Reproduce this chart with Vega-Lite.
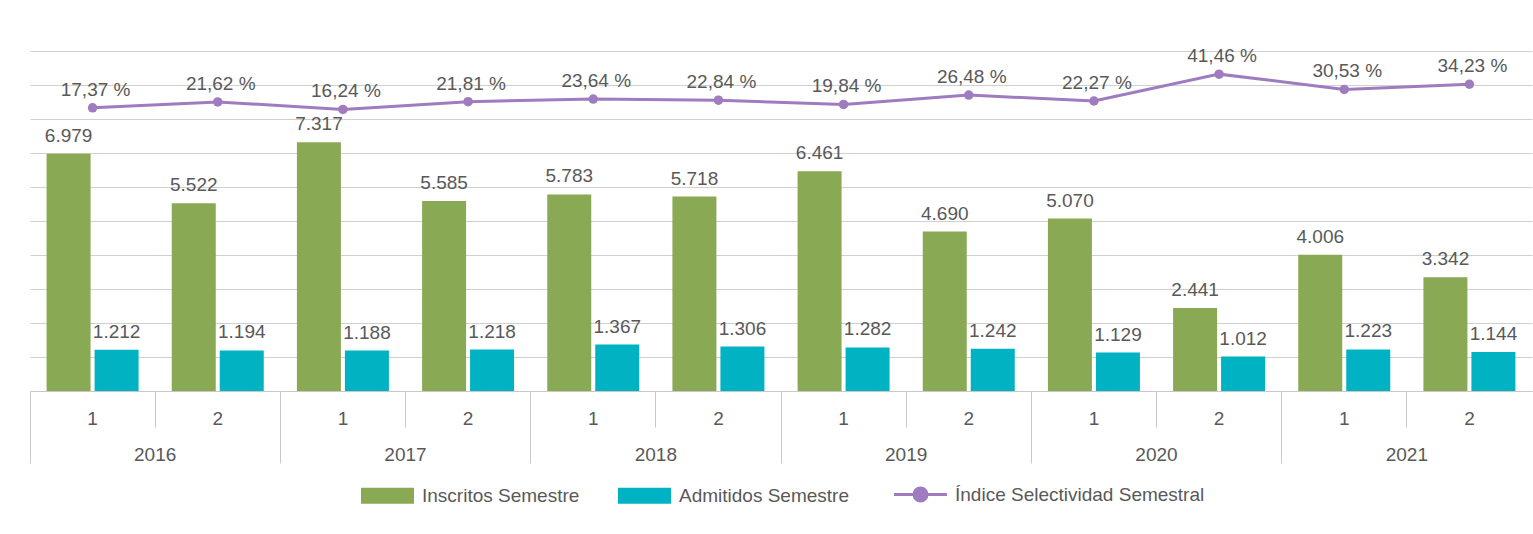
{
  "$schema": "https://vega.github.io/schema/vega-lite/v6.json",
  "width": 1502,
  "height": 340,
  "autosize": {"type": "none"},
  "padding": {"left": 30, "top": 51, "right": 1, "bottom": 143},
  "background": "white",
  "config": {
    "font": "Liberation Sans",
    "view": {"stroke": null},
    "axis": {"labelFont": "Liberation Sans", "labelColor": "#595959", "labelFontSize": 19, "title": null}
  },
  "data": {
    "values": [
      {"year": "2016", "period": "2016-1", "ins": 6979, "adm": 1212, "idx": 17.37},
      {"year": "2016", "period": "2016-2", "ins": 5522, "adm": 1194, "idx": 21.62},
      {"year": "2017", "period": "2017-1", "ins": 7317, "adm": 1188, "idx": 16.24},
      {"year": "2017", "period": "2017-2", "ins": 5585, "adm": 1218, "idx": 21.81},
      {"year": "2018", "period": "2018-1", "ins": 5783, "adm": 1367, "idx": 23.64},
      {"year": "2018", "period": "2018-2", "ins": 5718, "adm": 1306, "idx": 22.84},
      {"year": "2019", "period": "2019-1", "ins": 6461, "adm": 1282, "idx": 19.84},
      {"year": "2019", "period": "2019-2", "ins": 4690, "adm": 1242, "idx": 26.48},
      {"year": "2020", "period": "2020-1", "ins": 5070, "adm": 1129, "idx": 22.27},
      {"year": "2020", "period": "2020-2", "ins": 2441, "adm": 1012, "idx": 41.46},
      {"year": "2021", "period": "2021-1", "ins": 4006, "adm": 1223, "idx": 30.53},
      {"year": "2021", "period": "2021-2", "ins": 3342, "adm": 1144, "idx": 34.23}
    ]
  },
  "layer": [
    {
      "encoding": {
        "x": {
          "field": "period", "type": "nominal", "sort": null,
          "scale": {"paddingInner": 0, "paddingOuter": 0},
          "axis": {
            "orient": "bottom", "labelExpr": "slice(datum.value, 5)", "labelAngle": 0,
            "bandPosition": 0,
            "tickSize": 36, "tickColor": "#C8C8C8", "tickWidth": 1,
            "domainColor": "#C8C8C8", "domainWidth": 1, "grid": false,
            "labelBaseline": "middle", "labelPadding": -9
          }
        }
      },
      "layer": [
        {
          "mark": {"type": "bar", "width": 44, "xOffset": -24},
          "encoding": {
            "y": {"field": "ins", "type": "quantitative", "scale": {"domain": [0, 10000], "nice": false},
                  "axis": {"grid": true, "tickCount": 10, "labels": false, "ticks": false, "domain": false, "gridColor": "#D0D0D0", "gridWidth": 1}},
            "color": {
              "datum": "Inscritos Semestre",
              "scale": {"domain": ["Inscritos Semestre", "Admitidos Semestre", "Índice Selectividad Semestral"],
                        "range": ["#8AA955", "#00B2C2", "#9E7CBF"]},
              "legend": {
                "orient": "none", "direction": "horizontal", "legendX": 348, "legendY": 434,
                "title": null, "padding": 0, "symbolSize": 2809, "labelFontSize": 19,
                "labelFont": "Liberation Sans", "labelColor": "#595959", "labelOffset": 25,
                "columnPadding": 38, "labelLimit": 0,
                "encode": {
                  "symbols": {
                    "update": {
                      "shape": {"signal": "datum.label === 'Índice Selectividad Semestral' ? 'M-1,0H1M0.245,0A0.245,0.245,0,1,1,-0.245,0A0.245,0.245,0,1,1,0.245,0' : 'M-1,-0.3H1V0.3H-1Z'"},
                      "strokeWidth": {"signal": "datum.label === 'Índice Selectividad Semestral' ? 3 : 0"},
                      "stroke": {"signal": "datum.label === 'Índice Selectividad Semestral' ? '#9E7CBF' : 'transparent'"},
                      "fill": {"signal": "datum.label === 'Índice Selectividad Semestral' ? '#9E7CBF' : datum.label === 'Inscritos Semestre' ? '#8AA955' : '#00B2C2'"},
                      "opacity": {"value": 1}
                    }
                  }
                }
              }
            }
          }
        },
        {
          "mark": {"type": "bar", "width": 44, "xOffset": 24},
          "encoding": {
            "y": {"field": "adm", "type": "quantitative", "scale": {"domain": [0, 10000], "nice": false}, "axis": null},
            "color": {"datum": "Admitidos Semestre"}
          }
        },
        {
          "transform": [{"calculate": "replace(format(datum.ins, ','), ',', '.')", "as": "lbl"}],
          "mark": {"type": "text", "fontSize": 19, "fill": "#595959", "baseline": "alphabetic", "dy": -12, "xOffset": -24},
          "encoding": {
            "y": {"field": "ins", "type": "quantitative", "scale": {"domain": [0, 10000], "nice": false}, "axis": null},
            "text": {"field": "lbl"}
          }
        },
        {
          "transform": [{"calculate": "replace(format(datum.adm, ','), ',', '.')", "as": "lbl"}],
          "mark": {"type": "text", "fontSize": 19, "fill": "#595959", "baseline": "alphabetic", "dy": -12, "xOffset": 24},
          "encoding": {
            "y": {"field": "adm", "type": "quantitative", "scale": {"domain": [0, 10000], "nice": false}, "axis": null},
            "text": {"field": "lbl"}
          }
        },
        {
          "mark": {"type": "line", "strokeWidth": 3},
          "encoding": {
            "y": {"field": "idx", "type": "quantitative", "scale": {"domain": [-185, 58], "nice": false, "zero": false}, "axis": null},
            "color": {"datum": "Índice Selectividad Semestral"}
          }
        },
        {
          "mark": {"type": "point", "filled": true, "size": 90, "opacity": 1},
          "encoding": {
            "y": {"field": "idx", "type": "quantitative", "scale": {"domain": [-185, 58], "nice": false, "zero": false}, "axis": null},
            "color": {"datum": "Índice Selectividad Semestral"}
          }
        },
        {
          "transform": [{"calculate": "replace(format(datum.idx, '.2f'), '.', ',') + ' %'", "as": "plbl"}],
          "mark": {"type": "text", "fontSize": 19, "fill": "#595959", "baseline": "alphabetic", "dy": -12, "dx": 3},
          "encoding": {
            "y": {"field": "idx", "type": "quantitative", "scale": {"domain": [-185, 58], "nice": false, "zero": false}, "axis": null},
            "text": {"field": "plbl"}
          }
        }
      ],
      "resolve": {"scale": {"y": "independent"}}
    },
    {
      "mark": {"type": "rule", "opacity": 0},
      "encoding": {
        "x": {
          "field": "year", "type": "nominal", "sort": null,
          "scale": {"paddingInner": 0, "paddingOuter": 0},
          "axis": {
            "orient": "bottom", "labelAngle": 0, "bandPosition": 0,
            "tickSize": 72, "tickColor": "#C8C8C8", "tickWidth": 1, "domain": false, "grid": false,
            "labelBaseline": "middle", "labelPadding": -9
          }
        }
      }
    }
  ],
  "resolve": {"scale": {"x": "independent"}}
}
